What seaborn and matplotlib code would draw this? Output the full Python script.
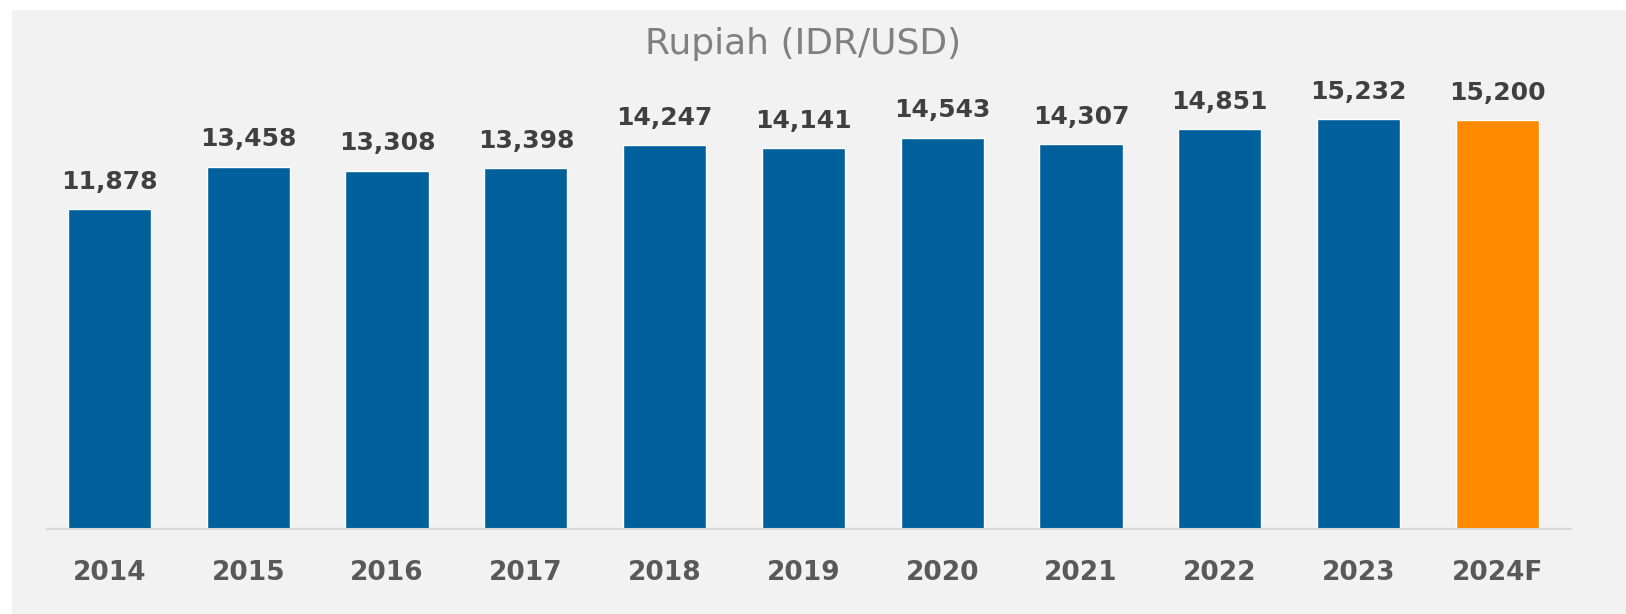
import matplotlib
matplotlib.use("Agg")
import matplotlib.pyplot as plt
import matplotlib.patches as mpatches
import seaborn as sns
import pandas as pd

years = ["2014", "2015", "2016", "2017", "2018", "2019", "2020", "2021", "2022", "2023", "2024F"]
rates = [11878, 13458, 13308, 13398, 14247, 14141, 14543, 14307, 14851, 15232, 15200]
value_labels = ["11,878", "13,458", "13,308", "13,398", "14,247", "14,141", "14,543", "14,307", "14,851", "15,232", "15,200"]
title = "Rupiah (IDR/USD)"

BLUE = "#00609b"
ORANGE = "#ff8a00"
bar_colors = [BLUE] * 10 + [ORANGE]

sns.set_theme(style="white")
plt.rcParams["font.family"] = ["DejaVu Sans"]

W, H = 1626, 614
fig = plt.figure(figsize=(W / 100, H / 100), dpi=100, facecolor="white")

# grey panel behind the chart
panel = mpatches.Rectangle((12 / W, 0), 1 - 12 / W, 1 - 10 / H,
                           transform=fig.transFigure, facecolor="#f2f2f2",
                           edgecolor="none", zorder=-10)
fig.patches.append(panel)

ax = fig.add_axes([47 / W, (H - 529) / H, (1571 - 47) / W, 519 / H])
ax.set_facecolor("none")

df = pd.DataFrame({"year": years, "rate": rates})
sns.barplot(data=df, x="year", y="rate", hue="year", palette=bar_colors,
            legend=False, width=0.6, ax=ax, saturation=1)

ax.set_xlim(-0.45, 10.53)
ax.set_ylim(0, 19280)

for i, (v, lab) in enumerate(zip(rates, value_labels)):
    ax.annotate(lab, (i, v), xytext=(0, 11), textcoords="offset points",
                ha="center", va="bottom", fontsize=18, fontweight="bold",
                color="#404040")

ax.set_title(title, fontsize=26, color="#808080", pad=-32, y=1.0, x=0.496)

for s in ["top", "right", "left"]:
    ax.spines[s].set_visible(False)
ax.spines["bottom"].set_color("#d9d9d9")
ax.spines["bottom"].set_linewidth(1.5)
ax.set_yticks([])
ax.set_xlabel("")
ax.set_ylabel("")
ax.tick_params(axis="x", length=0, pad=22, labelsize=19, labelcolor="#595959")
for t in ax.get_xticklabels():
    t.set_fontweight("bold")

fig.savefig("out.png", dpi=100, facecolor=fig.get_facecolor())
